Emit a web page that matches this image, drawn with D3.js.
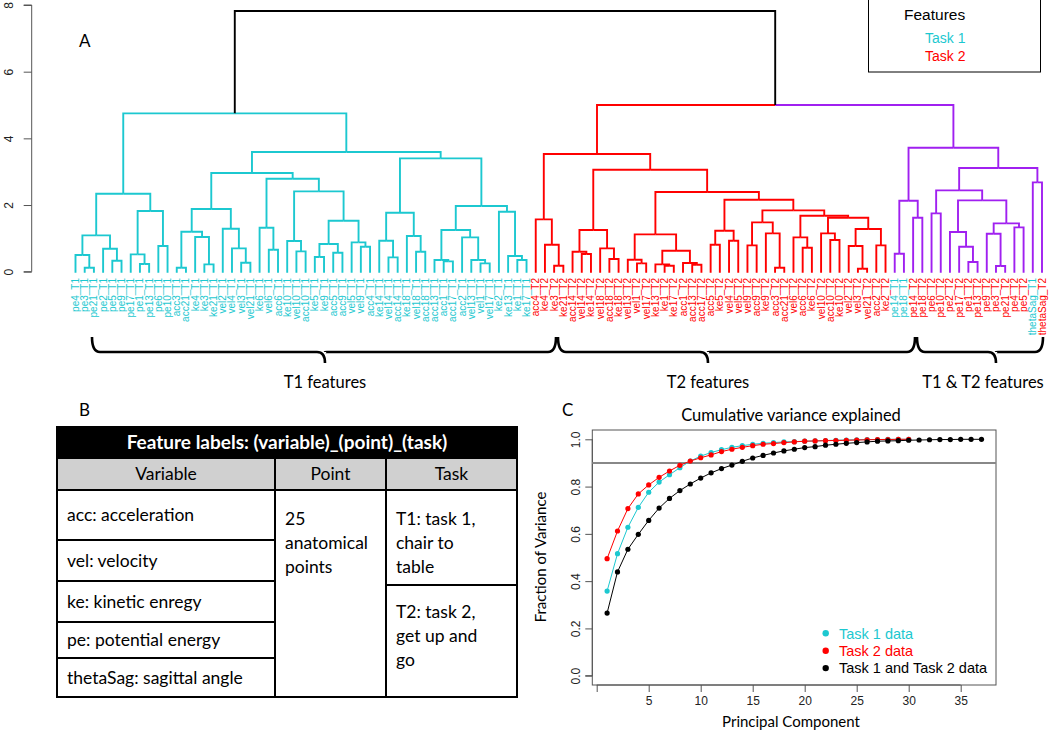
<!DOCTYPE html>
<html>
<head>
<meta charset="utf-8">
<script src="https://cdn.jsdelivr.net/npm/d3@7"></script>
<style>
  body { margin: 0; background: #fff; }
  svg { display: block; }
</style>
</head>
<body>
<svg id="chart" width="1050" height="738"></svg>
<script>
// ---- DATA -------------------------------------------------------------
// dendrogram clusters: [mergeHeight, left, right], leaves are labels
const t1Tree = [4.75,
  [2.34,
    [1.09, [0.50, "pe4_T1", [0.12, "pe3_T1", "pe21_T1"]], [0.69, "pe2_T1", [0.33, "pe5_T1", "pe9_T1"]]],
    [1.82, [0.52, "pe17_T1", [0.23, "pe1_T1", "pe13_T1"]], [0.77, "pe6_T1", "pe10_T1"]]],
  [3.59,
    [2.96,
      [1.88,
        [1.20, [0.12, "acc3_T1", "acc21_T1"], [1.04, "ke4_T1", [0.22, "ke3_T1", "ke21_T1"]]],
        [1.29, "vel2_T1", [0.70, "vel4_T1", [0.27, "vel3_T1", "vel21_T1"]]]],
      [2.79,
        [1.32, "ke6_T1", [0.66, "vel6_T1", "acc6_T1"]],
        [2.41,
          [0.92, "ke10_T1", [0.61, "vel10_T1", "acc10_T1"]],
          [1.53,
            [0.83, [0.44, "ke5_T1", "ke9_T1"], [0.57, "acc5_T1", "acc9_T1"]],
            [0.88, "vel5_T1", [0.75, "vel9_T1", "acc4_T1"]]]]]],
    [3.40,
      [1.77, [0.93, "ke14_T1", [0.43, "vel14_T1", "acc14_T1"]], [1.07, "ke18_T1", [0.60, "vel18_T1", "acc18_T1"]]],
      [1.97,
        [1.25, [0.35, "acc13_T1", [0.31, "acc1_T1", "acc17_T1"]],
               [1.03, "acc2_T1", [0.35, "vel13_T1", [0.25, "vel1_T1", "vel17_T1"]]]],
        [1.80, "ke2_T1", [0.47, "ke13_T1", [0.35, "ke1_T1", "ke17_T1"]]]]]]]

const t2Tree = [3.53,
  [1.57, "acc4_T2", [0.81, "ke4_T2", [0.18, "ke3_T2", "ke21_T2"]]],
  [3.06,
    [1.25, [0.60, "acc14_T2", [0.53, "vel14_T2", "ke14_T2"]], [0.70, "vel18_T2", [0.38, "acc18_T2", "ke18_T2"]]],
    [2.39,
      [1.12, [0.36, "vel13_T2", [0.25, "vel1_T2", "vel17_T2"]],
             [0.63, [0.22, "ke13_T2", [0.18, "ke1_T2", "ke17_T2"]], [0.26, "acc1_T2", [0.21, "acc13_T2", "acc17_T2"]]]],
      [2.16,
        [1.23, [0.81, "acc5_T2", "ke5_T2"], [0.93, "vel4_T2", "vel5_T2"]],
        [1.84,
          [1.48, [0.79, "vel9_T2", "acc9_T2"], [1.15, "ke9_T2", [0.12, "acc3_T2", "acc21_T2"]]],
          [1.68,
            [1.03, "vel6_T2", [0.72, "acc6_T2", "ke6_T2"]],
            [1.62, [1.15, "vel10_T2", [0.95, "acc10_T2", "ke10_T2"]],
                   [1.28, [0.77, "vel2_T2", [0.09, "vel3_T2", "vel21_T2"]], [0.79, "acc2_T2", "ke2_T2"]]]]]]]]]

const mixTree = [3.72,
  [2.13, [0.54, "pe14_T1", "pe18_T1"], [1.62, "pe14_T2", "pe18_T2"]],
  [3.11,
    [2.44, [1.75, "pe6_T2", "pe10_T2"],
           [2.14, [1.19, "pe2_T2", [0.75, "pe17_T2", [0.29, "pe1_T2", "pe13_T2"]]],
                  [1.45, [1.14, "pe9_T2", [0.17, "pe3_T2", "pe21_T2"]], [1.33, "pe4_T2", "pe5_T2"]]]],
    [2.68, "thetaSag_T1", "thetaSag_T2"]]]

const rootHeight = 7.82
const t2MixHeight = 5.00
const dendroTicks = [0, 2, 4, 6, 8]
const groupNames = ["T1 features", "T2 features", "T1 & T2 features"]

// cumulative variance explained
const task1Var = [0.358, 0.516, 0.628, 0.712, 0.776, 0.819, 0.850, 0.880, 0.908, 0.929,
  0.944, 0.956, 0.966, 0.973, 0.979, 0.983, 0.986, 0.989, 0.990, 0.992,
  0.993, 0.995, 0.996, 0.997, 0.998, 0.999, 0.999, 1.000, 1.000, 1.000]
const task2Var = [0.495, 0.612, 0.707, 0.769, 0.807, 0.839, 0.866, 0.890, 0.908, 0.922,
  0.934, 0.948, 0.958, 0.966, 0.973, 0.979, 0.982, 0.986, 0.989, 0.992,
  0.993, 0.994, 0.995, 0.996, 0.997, 0.998, 0.999, 0.999, 1.000, 1.000]
const bothVar = [0.265, 0.439, 0.535, 0.598, 0.657, 0.709, 0.750, 0.783, 0.811, 0.836,
  0.858, 0.876, 0.891, 0.907, 0.921, 0.932, 0.942, 0.951, 0.958, 0.965,
  0.969, 0.975, 0.979, 0.983, 0.986, 0.989, 0.992, 0.993, 0.994, 0.996,
  0.997, 0.998, 0.999, 0.999, 1.000, 1.000, 1.000]
const varThreshold = 0.9
const pcTicks = [0, 5, 10, 15, 20, 25, 30, 35]
const fracTicks = [0, 0.2, 0.4, 0.6, 0.8, 1.0]
const seriesNames = ["Task 1 data", "Task 2 data", "Task 1 and Task 2 data"]

// table
const tableTitle = "Feature labels: (variable)_(point)_(task)"
const tableHeads = ["Variable", "Point", "Task"]
const variableRows = ["acc: acceleration", "vel: velocity", "ke: kinetic enregy", "pe: potential energy", "thetaSag: sagittal angle"]
const pointLines = ["25", "anatomical", "points"]
const taskRows = [["T1: task 1,", "chair to", "table"], ["T2: task 2,", "get up and", "go"]]

// ---- SETUP ------------------------------------------------------------
const colT1 = "#1cc8d0"
const colT2 = "#ff0000"
const colMix = "#a020f0"
const arial = "'Liberation Sans', Arial, sans-serif"
const calibri = "Lato, 'Open Sans', sans-serif"

const svg = d3.select("#chart")
svg.append("rect").attr("width", 1050).attr("height", 738).attr("fill", "#fff")

// ---- PANEL A: dendrogram ---------------------------------------------
let leafIdx = 0
const leaves = []
function build(node) {
  if (typeof node === "string") {
    const leaf = { label: node, h: 0, idx: ++leafIdx }
    leaves.push(leaf)
    return leaf
  }
  const l = build(node[1]), r = build(node[2])
  return { h: node[0], kids: [l, r], idx: (l.idx + r.idx) / 2 }
}
const t1Root = build(t1Tree)
const t2Root = build(t2Tree)
const mixRoot = build(mixTree)
const midNode = { h: t2MixHeight, kids: [t2Root, mixRoot], idx: (t2Root.idx + mixRoot.idx) / 2 }
const root = { h: rootHeight, kids: [t1Root, midNode], idx: (t1Root.idx + midNode.idx) / 2 }

const xD = d3.scaleLinear().domain([1, leaves.length]).range([75.5, 1042])
const yD = d3.scaleLinear().domain([0, 8]).range([271.7, 5])

const dendro = svg.append("g").attr("fill", "none").attr("stroke-width", 1.9)

function edge(parent, child, color) {
  const yc = child.kids ? yD(child.h) : yD(0) + 1
  dendro.append("path")
    .attr("d", `M${xD(child.idx)},${yc}V${yD(parent.h)}H${xD(parent.idx)}`)
    .attr("stroke", color)
}
function drawTree(node, color) {
  if (!node.kids) return
  node.kids.forEach(k => { edge(node, k, color); drawTree(k, color) })
}
drawTree(t1Root, colT1)
drawTree(t2Root, colT2)
drawTree(mixRoot, colMix)
edge(midNode, t2Root, colT2)
edge(midNode, mixRoot, colMix)
edge(root, t1Root, "#000")
edge(root, midNode, "#000")

// y axis
const yAxisA = svg.append("g").attr("transform", "translate(31.7,0)")
  .call(d3.axisLeft(yD).tickValues(dendroTicks).tickSize(8).tickFormat(d3.format("d")))
yAxisA.select(".domain").attr("stroke", "#555").attr("d", `M-8,${yD(8)}H0V${yD(0)}H-8`)
yAxisA.selectAll(".tick line").attr("stroke", "#555")
yAxisA.selectAll(".tick text")
  .attr("font-family", arial).attr("font-size", 12).attr("fill", "#222")
  .attr("x", 0).attr("y", 0).attr("dy", "0").attr("text-anchor", "middle")
  .attr("transform", "translate(-19,0) rotate(-90)")

// leaf labels
svg.append("g").selectAll("text").data(leaves).join("text")
  .attr("transform", d => `translate(${xD(d.idx)},278) rotate(-90)`)
  .attr("text-anchor", "end").attr("dy", "0.35em")
  .attr("font-family", arial).attr("font-size", 10)
  .attr("fill", d => d.label.endsWith("_T1") ? colT1 : colT2)
  .text(d => d.label)

svg.append("text").attr("x", 79).attr("y", 47).attr("font-family", calibri)
  .attr("font-size", 17).text("A")

// features legend
svg.append("rect").attr("x", 868.5).attr("y", -1).attr("width", 172).attr("height", 73)
  .attr("fill", "#fff").attr("stroke", "#000").attr("stroke-width", 1)
const legA = [["Features", "#000", 904, 20, 15.5], ["Task 1", colT1, 925, 43, 14], ["Task 2", colT2, 925, 61, 14]]
svg.append("g").selectAll("text").data(legA).join("text")
  .attr("x", d => d[2]).attr("y", d => d[3]).attr("fill", d => d[1])
  .attr("font-family", arial).attr("font-size", d => d[4]).text(d => d[0])

// braces under the three clusters
function brace(x1, x2, xm) {
  const y0 = 337, yl = 352, yt = 363, r = 8
  return `M${x1},${y0}Q${x1},${yl} ${x1 + r},${yl}L${xm - r},${yl}Q${xm},${yl} ${xm},${yt}` +
         `M${xm},${yl + 0.1}Q${xm},${yl} ${xm + r},${yl}L${x2 - r},${yl}Q${x2},${yl} ${x2},${y0}`
}
const braceSpans = [[92, 556, 325, 325], [558, 915, 708, 708], [917, 1043, 996, 983]]
svg.append("g").selectAll("path").data(braceSpans).join("path")
  .attr("d", d => brace(d[0], d[1], d[2]))
  .attr("fill", "none").attr("stroke", "#000").attr("stroke-width", 2.6)
svg.append("g").selectAll("text").data(braceSpans).join("text")
  .attr("x", d => d[3]).attr("y", 388).attr("text-anchor", "middle")
  .attr("font-family", calibri).attr("font-size", 16.5).text((d, i) => groupNames[i])

// ---- PANEL B: table ---------------------------------------------------
svg.append("text").attr("x", 79).attr("y", 416).attr("font-family", calibri)
  .attr("font-size", 17).text("B")

const tb = svg.append("g")
const tFont = 17.5
const tx0 = 57, tx1 = 517, c1 = 275, c2 = 386
const ty0 = 427, tyHead = 458, tyBody = 490, ty1 = 697
const varBounds = [490, 540, 581, 622, 658, 697]
const taskSplit = 585
tb.append("rect").attr("x", tx0).attr("y", ty0).attr("width", tx1 - tx0).attr("height", tyHead - ty0).attr("fill", "#000")
tb.append("rect").attr("x", tx0).attr("y", tyHead).attr("width", tx1 - tx0).attr("height", tyBody - tyHead).attr("fill", "#d0d0d0")
tb.append("text").attr("x", (tx0 + tx1) / 2).attr("y", 449).attr("text-anchor", "middle")
  .attr("fill", "#fff").attr("font-weight", "bold").attr("font-family", calibri).attr("font-size", 19).text(tableTitle)
const lines = []
lines.push([tx0, tyHead, tx1, tyHead], [tx0, tyBody, tx1, tyBody], [c1, tyHead, c1, ty1], [c2, tyHead, c2, ty1])
varBounds.slice(1, -1).forEach(y => lines.push([tx0, y, c1, y]))
lines.push([c2, taskSplit, tx1, taskSplit])
tb.selectAll("line").data(lines).join("line")
  .attr("x1", d => d[0]).attr("y1", d => d[1]).attr("x2", d => d[2]).attr("y2", d => d[3])
  .attr("stroke", "#000").attr("stroke-width", 2)
tb.append("rect").attr("x", tx0).attr("y", ty0).attr("width", tx1 - tx0).attr("height", ty1 - ty0)
  .attr("fill", "none").attr("stroke", "#000").attr("stroke-width", 2)
const headX = [(tx0 + c1) / 2, (c1 + c2) / 2, (c2 + tx1) / 2]
tb.selectAll(".head").data(tableHeads).join("text").attr("class", "head")
  .attr("x", (d, i) => headX[i]).attr("y", 480).attr("text-anchor", "middle")
  .attr("font-family", calibri).attr("font-size", tFont).text(d => d)
tb.selectAll(".var").data(variableRows).join("text").attr("class", "var")
  .attr("x", tx0 + 10).attr("y", (d, i) => (varBounds[i] + varBounds[i + 1]) / 2 + 6)
  .attr("font-family", calibri).attr("font-size", tFont).text(d => d)
tb.selectAll(".pt").data(pointLines).join("text").attr("class", "pt")
  .attr("x", c1 + 10).attr("y", (d, i) => 525 + i * 24)
  .attr("font-family", calibri).attr("font-size", tFont).text(d => d)
taskRows.forEach((rows, j) => {
  tb.selectAll(".tk" + j).data(rows).join("text").attr("class", "tk" + j)
    .attr("x", c2 + 10).attr("y", (d, i) => (j === 0 ? 525 : 618) + i * 24)
    .attr("font-family", calibri).attr("font-size", tFont).text(d => d)
})

// ---- PANEL C: cumulative variance ------------------------------------
svg.append("text").attr("x", 562).attr("y", 416).attr("font-family", calibri)
  .attr("font-size", 17).text("C")
const xC = d3.scaleLinear().domain([0, 35]).range([596.7, 960.7])
const yC = d3.scaleLinear().domain([0, 1]).range([675.7, 439.3])
const boxC = { x0: 592.3, x1: 996, y0: 430, y1: 685 }

svg.append("text").attr("x", 791).attr("y", 421).attr("text-anchor", "middle")
  .attr("font-family", calibri).attr("font-size", 16.5).text("Cumulative variance explained")
svg.append("rect").attr("x", boxC.x0).attr("y", boxC.y0).attr("width", boxC.x1 - boxC.x0)
  .attr("height", boxC.y1 - boxC.y0).attr("fill", "none").attr("stroke", "#555").attr("stroke-width", 1)

const gxC = svg.append("g").attr("transform", `translate(0,${boxC.y1})`)
  .call(d3.axisBottom(xC).tickValues(pcTicks).tickSize(7).tickPadding(4).tickFormat(d => d === 0 ? "" : d))
gxC.select(".domain").attr("stroke", "#555").attr("d", `M${xC(0)},0H${xC(35)}`)
gxC.selectAll(".tick line").attr("stroke", "#555")
gxC.selectAll(".tick text").attr("font-family", arial).attr("font-size", 12).attr("fill", "#222")

const gyC = svg.append("g").attr("transform", `translate(${boxC.x0},0)`)
  .call(d3.axisLeft(yC).tickValues(fracTicks).tickSize(7).tickFormat(d3.format(".1f")))
gyC.select(".domain").attr("stroke", "#555").attr("d", `M-7,${yC(0)}H0M0,${yC(0)}V${yC(1)}`)
gyC.selectAll(".tick line").attr("stroke", "#555")
gyC.selectAll(".tick text").attr("font-family", arial).attr("font-size", 12).attr("fill", "#222")
  .attr("x", 0).attr("y", 0).attr("dy", "0").attr("text-anchor", "middle")
  .attr("transform", "translate(-12,0) rotate(-90)")

svg.append("text").attr("x", 791).attr("y", 727).attr("text-anchor", "middle")
  .attr("font-family", calibri).attr("font-size", 15).text("Principal Component")
svg.append("text").attr("transform", "translate(546,557) rotate(-90)").attr("text-anchor", "middle")
  .attr("font-family", calibri).attr("font-size", 15).text("Fraction of Variance")

svg.append("line").attr("x1", boxC.x0).attr("x2", boxC.x1)
  .attr("y1", yC(varThreshold)).attr("y2", yC(varThreshold))
  .attr("stroke", "#888").attr("stroke-width", 2)

const series = [[task1Var, colT1], [task2Var, colT2], [bothVar, "#000"]]
const lineGen = d3.line().x((d, i) => xC(i + 1)).y(d => yC(d))
series.forEach(([vals, col]) => {
  svg.append("path").datum(vals).attr("d", lineGen)
    .attr("fill", "none").attr("stroke", col).attr("stroke-width", 1)
  svg.append("g").selectAll("circle").data(vals).join("circle")
    .attr("cx", (d, i) => xC(i + 1)).attr("cy", d => yC(d)).attr("r", 2.6).attr("fill", col)
})

// legend C
const legC = svg.append("g")
series.forEach(([vals, col], i) => {
  legC.append("circle").attr("cx", 825.7).attr("cy", 633.3 + i * 17.4).attr("r", 3.2).attr("fill", col)
  legC.append("text").attr("x", 839).attr("y", 633.3 + i * 17.4).attr("dy", "0.36em")
    .attr("font-family", arial).attr("font-size", 14.5).attr("fill", col)
    .text(seriesNames[i])
})
</script>
</body>
</html>
